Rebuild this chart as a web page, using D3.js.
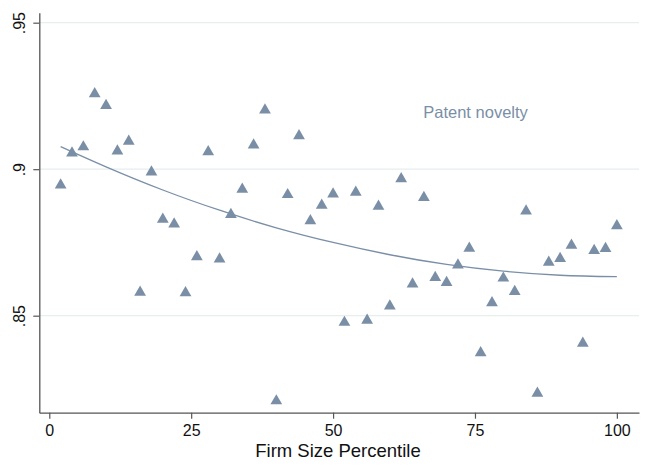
<!DOCTYPE html>
<html><head><meta charset="utf-8">
<script src="https://cdn.jsdelivr.net/npm/d3@7"></script>
<style>body{margin:0;background:#fff}svg{display:block;font-family:"Liberation Sans",Arial,Helvetica,sans-serif}</style>
</head><body><svg id="c" width="646" height="468"></svg>
<script>
const percentiles = [2,4,6,8,10,12,14,16,18,20,22,24,26,28,30,32,34,36,38,40,42,44,46,48,50,52,54,56,58,60,62,64,66,68,70,72,74,76,78,80,82,84,86,88,90,92,94,96,98,100];
const novelty = [0.8946,0.9055,0.9076,0.9257,0.9217,0.9062,0.9095,0.8580,0.8990,0.8829,
                 0.8813,0.8578,0.8701,0.9059,0.8693,0.8845,0.8931,0.9082,0.9202,0.8209,
                 0.8913,0.9114,0.8824,0.8877,0.8915,0.8477,0.8921,0.8484,0.8873,0.8533,
                 0.8967,0.8608,0.8903,0.8630,0.8613,0.8673,0.8730,0.8373,0.8544,0.8628,
                 0.8582,0.8857,0.8235,0.8682,0.8695,0.8740,0.8406,0.8722,0.8729,0.8807];
const fitX = [2,10,20,30,40,50,60,70,80,90,100];
const fitY = [0.9077,0.9008,0.8929,0.8860,0.8800,0.8750,0.8708,0.8675,0.8652,0.8638,0.8633];
const xTicks = [0,25,50,75,100];
const yTicks = [0.85,0.9,0.95];
const yTickLabels = [".85",".9",".95"];
const seriesLabel = "Patent novelty";
const xTitle = "Firm Size Percentile";

const svg = d3.select("#c");
const L = 39.3, R = 639, T = 12.7, B = 412.7;
const x = d3.scaleLinear().domain([-1.76, 103.9]).range([L, R]);
const y = d3.scaleLinear().domain([0.81689, 0.95341]).range([B, T]);
const col = "#7a8fa6";

// grid
svg.append("g").selectAll("line").data(yTicks).join("line")
  .attr("x1", L).attr("x2", R).attr("y1", d => y(d)).attr("y2", d => y(d))
  .attr("stroke", "#e6eeee").attr("stroke-width", 1.2);

// x axis
const gx = svg.append("g").attr("transform", `translate(0,${B})`)
  .call(d3.axisBottom(x).tickValues(xTicks).tickSize(6).tickSizeOuter(0).tickPadding(6));
gx.select(".domain").attr("stroke", "#555").attr("stroke-width", 1.3);
gx.selectAll(".tick line").attr("stroke", "#555").attr("stroke-width", 1.2);
gx.selectAll(".tick text").attr("font-size", 16).attr("fill", "#111").attr("font-family", null);

// y axis
const gy = svg.append("g").attr("transform", `translate(${L},0)`)
  .call(d3.axisLeft(y).tickValues(yTicks).tickSize(6).tickSizeOuter(0)
    .tickFormat((d, i) => yTickLabels[i]));
gy.select(".domain").attr("stroke", "#555").attr("stroke-width", 1.3);
gy.selectAll(".tick line").attr("stroke", "#555").attr("stroke-width", 1.2);
gy.selectAll(".tick text").attr("font-size", 16).attr("fill", "#111").attr("font-family", null)
  .attr("text-anchor", "middle").attr("x", 0).attr("dy", 0)
  .attr("transform", "translate(-14,0) rotate(-90)").attr("dominant-baseline", "auto").attr("y", 0);

// fit line
svg.append("path").datum(fitX.map((d, i) => [d, fitY[i]]))
  .attr("fill", "none").attr("stroke", col).attr("stroke-width", 1.3)
  .attr("d", d3.line().x(d => x(d[0])).y(d => y(d[1])).curve(d3.curveNatural));

// markers
svg.append("g").selectAll("path").data(percentiles).join("path")
  .attr("transform", (d, i) => `translate(${x(d)},${y(novelty[i])})`)
  .attr("d", d3.symbol().type(d3.symbolTriangle).size(60))
  .attr("fill", col);

// label
svg.append("text").attr("x", x(75.1)).attr("y", 118.3).attr("text-anchor", "middle")
  .attr("font-size", 16.5).attr("fill", col).text(seriesLabel);

// title
svg.append("text").attr("x", 338).attr("y", 456.5).attr("text-anchor", "middle")
  .attr("font-size", 18.5).attr("fill", "#111").text(xTitle);
</script></body></html>
